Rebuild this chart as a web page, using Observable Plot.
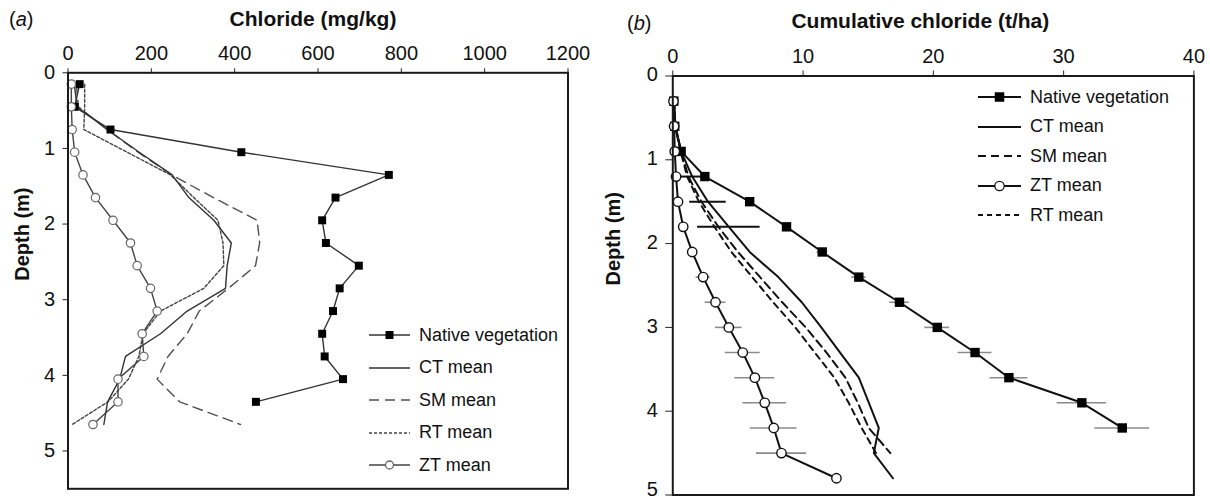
<!DOCTYPE html>
<html><head><meta charset="utf-8">
<script src="https://cdn.jsdelivr.net/npm/d3@7"></script>
<script src="https://cdn.jsdelivr.net/npm/@observablehq/plot@0.6"></script>
<style>
body{margin:0;background:#fff;font-family:"Liberation Sans",Arial,sans-serif;}
#wrap{position:relative;width:1210px;height:501px;overflow:hidden;background:#fff;}
.panel{position:absolute;top:0;}
.lab{position:absolute;font-size:20px;color:#111;line-height:20px;white-space:nowrap;}
.leg{position:absolute;display:flex;align-items:center;height:24px;font-size:18px;color:#111;white-space:nowrap;}
.leg svg{flex:none;}
</style></head><body>
<div id="wrap"><div id="pa" class="panel" style="left:0"></div><div id="pb" class="panel" style="left:605px"></div></div>
<script>
// ---------- Panel (a): chloride concentration (mg/kg) by depth (m) ----------
const depthA = [0.15,0.45,0.75,1.05,1.35,1.65,1.95,2.25,2.55,2.85,3.15,3.45,3.75,4.05,4.35,4.65];
const nativeA = [28,16,102,416,770,642,610,619,698,652,636,610,616,660,451];
const ctA = [15,22,94,171,250,290,350,392,382,378,286,222,138,124,95,86];
const smA = [20,25,94,168,249,349,454,460,450,385,315,286,240,214,268,414];
const rtA = [40,40,38,142,246,302,360,372,374,326,222,180,170,145,96,10];
const ztA = [8,8,10,16,36,66,108,150,166,198,214,178,182,120,120,60];
const xTicksA = [0,200,400,600,800,1000,1200];
const yTicksA = [0,1,2,3,4,5];

// ---------- Panel (b): cumulative chloride (t/ha) by depth (m) ----------
const depthB = [0.3,0.6,0.9,1.2,1.5,1.8,2.1,2.4,2.7,3.0,3.3,3.6,3.9,4.2,4.5,4.8];
const nativeB = [0.08,0.15,0.64,2.46,5.9,8.73,11.47,14.28,17.4,20.3,23.2,25.8,31.4,34.5];
const nativeErrB = [0,0,0,0,0,0.3,0.4,0.55,0.75,0.95,1.3,1.45,1.9,2.1];
const ctB = [0.1,0.2,0.64,1.49,2.7,4.3,5.9,8.1,9.9,11.4,12.84,14.28,15.05,15.81,15.43,16.9];
const ctErrB = [0,0,0,1.15,1.4,2.4,0,0,0,0,0,0,0,0,0,0];
const smB = [0.1,0.2,0.64,1.2,2.2,3.5,5.0,6.7,8.4,10.2,11.8,13.25,14.2,15.04,16.7];
const rtB = [0.1,0.2,0.6,1.1,2.0,3.2,4.5,6.1,7.7,9.4,10.9,12.4,13.5,14.5,15.6];
const ztB = [0.05,0.1,0.15,0.25,0.4,0.8,1.49,2.33,3.28,4.3,5.37,6.3,7.06,7.75,8.34,12.56];
const ztErrB = [0,0,0,0,0,0,0.3,0.54,0.8,1.02,1.34,1.53,1.68,1.79,1.92,0];
const xTicksB = [0,10,20,30,40];
const yTicksB = [0,1,2,3,4,5];

const rows = (depths, vals, errs) => vals.map((v, i) => ({d: depths[i], v, e: errs ? errs[i] : 0}));
const FONT = '"Liberation Sans", Arial, sans-serif';
const baseStyle = {fontFamily: FONT, fontSize: "20px", color: "#111", background: "transparent", overflow: "visible"};

const plotA = Plot.plot({
  width: 605, height: 501,
  marginLeft: 67.5, marginRight: 37.5, marginTop: 72.3, marginBottom: 12.7,
  style: baseStyle,
  x: {domain: [0, 1200]},
  y: {domain: [0, 5.5], reverse: true},
  marks: [
    Plot.axisX({anchor: "top", ticks: xTicksA, tickSize: 5, tickPadding: 7.6, label: null, tickFormat: d => String(d), stroke: "#222"}),
    Plot.axisY({anchor: "left", ticks: yTicksA, tickSize: 5, tickPadding: 8, label: null, tickFormat: d => String(d), stroke: "#222"}),
    Plot.line(rows(depthA, smA), {x: "v", y: "d", stroke: "#505050", strokeWidth: 1.4, strokeDasharray: "10,6"}),
    Plot.line(rows(depthA, rtA), {x: "v", y: "d", stroke: "#444", strokeWidth: 1.4, strokeDasharray: "3,2"}),
    Plot.line(rows(depthA, ctA), {x: "v", y: "d", stroke: "#333", strokeWidth: 1.4}),
    Plot.line(rows(depthA, ztA), {x: "v", y: "d", stroke: "#444", strokeWidth: 1.4}),
    Plot.line(rows(depthA, nativeA), {x: "v", y: "d", stroke: "#333", strokeWidth: 1.4}),
    Plot.dot(rows(depthA, nativeA), {x: "v", y: "d", symbol: "square", r: 4.5, fill: "#000"}),
    Plot.dot(rows(depthA, ztA), {x: "v", y: "d", r: 4.2, fill: "#fff", stroke: "#666", strokeWidth: 1.2}),
    Plot.frame({stroke: "#1a1a1a", strokeWidth: 2}),
    Plot.text(["Chloride (mg/kg)"], {text: d => d, frameAnchor: "top", dy: -47, dx: -5, lineAnchor: "bottom", fontWeight: "bold", fontSize: 21, fill: "#111"}),
    Plot.text(["Depth (m)"], {text: d => d, frameAnchor: "left", rotate: -90, dx: -45.5, lineAnchor: "middle", fontWeight: "bold", fontSize: 20, fill: "#111"})
  ]
});
document.getElementById("pa").appendChild(plotA);

const plotB = Plot.plot({
  width: 605, height: 501,
  marginLeft: 67.3, marginRight: 16.6, marginTop: 75.5, marginBottom: 6.5,
  style: baseStyle,
  x: {domain: [0, 40]},
  y: {domain: [0, 5], reverse: true},
  marks: [
    Plot.axisX({anchor: "top", ticks: xTicksB, tickSize: 6, tickPadding: 6.6, label: null, tickFormat: d => String(d), stroke: "#222"}),
    Plot.axisY({anchor: "left", ticks: yTicksB, tickSize: 7, label: null, tickFormat: () => "", stroke: "#222"}),
    Plot.axisY({anchor: "left", ticks: yTicksB.slice(0, -1), tickSize: 0, tickPadding: 15, dy: -1, label: null, tickFormat: d => String(d)}),
    Plot.axisY({anchor: "left", ticks: yTicksB.slice(-1), tickSize: 0, tickPadding: 15, dy: -5, label: null, tickFormat: d => String(d)}),
    Plot.ruleY(rows(depthB, nativeB, nativeErrB).filter(r => r.e > 0), {y: "d", x1: r => r.v - r.e, x2: r => r.v + r.e, stroke: "#8a8a8a", strokeWidth: 1.6}),
    Plot.ruleY(rows(depthB, ztB, ztErrB).filter(r => r.e > 0), {y: "d", x1: r => r.v - r.e, x2: r => r.v + r.e, stroke: "#8a8a8a", strokeWidth: 1.6}),
    Plot.ruleY(rows(depthB, ctB, ctErrB).filter(r => r.e > 0), {y: "d", x1: r => r.v - r.e, x2: r => r.v + r.e, stroke: "#111", strokeWidth: 2}),
    Plot.line(rows(depthB, smB), {x: "v", y: "d", stroke: "#111", strokeWidth: 2, strokeDasharray: "8,5"}),
    Plot.line(rows(depthB, rtB), {x: "v", y: "d", stroke: "#111", strokeWidth: 2, strokeDasharray: "6,5"}),
    Plot.line(rows(depthB, ctB), {x: "v", y: "d", stroke: "#111", strokeWidth: 2}),
    Plot.line(rows(depthB, nativeB), {x: "v", y: "d", stroke: "#111", strokeWidth: 2}),
    Plot.line(rows(depthB, ztB), {x: "v", y: "d", stroke: "#111", strokeWidth: 2}),
    Plot.dot(rows(depthB, nativeB), {x: "v", y: "d", symbol: "square", r: 5.3, fill: "#000"}),
    Plot.dot(rows(depthB, ztB), {x: "v", y: "d", r: 4.7, fill: "#fff", stroke: "#111", strokeWidth: 1.4}),
    Plot.frame({stroke: "#1a1a1a", strokeWidth: 2}),
    Plot.text(["Cumulative chloride (t/ha)"], {text: d => d, frameAnchor: "top", dy: -48.5, dx: -13, lineAnchor: "bottom", fontWeight: "bold", fontSize: 21, fill: "#111"}),
    Plot.text(["Depth (m)"], {text: d => d, frameAnchor: "left", rotate: -90, dx: -59, lineAnchor: "middle", fontWeight: "bold", fontSize: 20, fill: "#111"})
  ]
});
document.getElementById("pb").appendChild(plotB);

// ---------- panel labels ----------
const wrap = document.getElementById("wrap");
function panelLabel(letter, left, top) {
  const el = document.createElement("div");
  el.className = "lab";
  el.style.left = left + "px"; el.style.top = top + "px";
  el.innerHTML = "(<i>" + letter + "</i>)";
  wrap.appendChild(el);
}
panelLabel("a", 9, 9);
panelLabel("b", 627, 13);

// ---------- legends ----------
const NS = "http://www.w3.org/2000/svg";
function legend(items, x0, symW, gap, y0, step) {
  items.forEach((it, i) => {
    const row = document.createElement("div");
    row.className = "leg";
    row.style.left = x0 + "px";
    row.style.top = (y0 + i * step - 12) + "px";
    const svg = document.createElementNS(NS, "svg");
    svg.setAttribute("width", symW); svg.setAttribute("height", 24);
    const ln = document.createElementNS(NS, "line");
    ln.setAttribute("x1", 0); ln.setAttribute("x2", symW);
    ln.setAttribute("y1", 12); ln.setAttribute("y2", 12);
    ln.setAttribute("stroke", it.stroke); ln.setAttribute("stroke-width", it.sw);
    if (it.dash) ln.setAttribute("stroke-dasharray", it.dash);
    svg.appendChild(ln);
    if (it.marker === "square") {
      const r = document.createElementNS(NS, "rect");
      r.setAttribute("x", symW / 2 - it.ms / 2); r.setAttribute("y", 12 - it.ms / 2);
      r.setAttribute("width", it.ms); r.setAttribute("height", it.ms);
      r.setAttribute("fill", "#000");
      svg.appendChild(r);
    } else if (it.marker === "circle") {
      const c = document.createElementNS(NS, "circle");
      c.setAttribute("cx", symW / 2); c.setAttribute("cy", 12); c.setAttribute("r", it.ms);
      c.setAttribute("fill", "#fff"); c.setAttribute("stroke", it.mstroke); c.setAttribute("stroke-width", 1.3);
      svg.appendChild(c);
    }
    row.appendChild(svg);
    const sp = document.createElement("span");
    sp.style.marginLeft = gap + "px";
    sp.textContent = it.label;
    row.appendChild(sp);
    wrap.appendChild(row);
  });
}
legend([
  {label: "Native vegetation", stroke: "#333", sw: 1.4, marker: "square", ms: 8},
  {label: "CT mean", stroke: "#333", sw: 1.4},
  {label: "SM mean", stroke: "#505050", sw: 1.4, dash: "10,6"},
  {label: "RT mean", stroke: "#444", sw: 1.4, dash: "3,2"},
  {label: "ZT mean", stroke: "#444", sw: 1.4, marker: "circle", ms: 4, mstroke: "#666"}
], 369, 41, 9, 335, 32.5);
legend([
  {label: "Native vegetation", stroke: "#111", sw: 2, marker: "square", ms: 9.5},
  {label: "CT mean", stroke: "#111", sw: 2},
  {label: "SM mean", stroke: "#111", sw: 2, dash: "8,5"},
  {label: "ZT mean", stroke: "#111", sw: 2, marker: "circle", ms: 4.7, mstroke: "#111"},
  {label: "RT mean", stroke: "#111", sw: 2, dash: "5,4"}
], 978, 43, 9, 97, 29.6);
</script>
</body></html>
